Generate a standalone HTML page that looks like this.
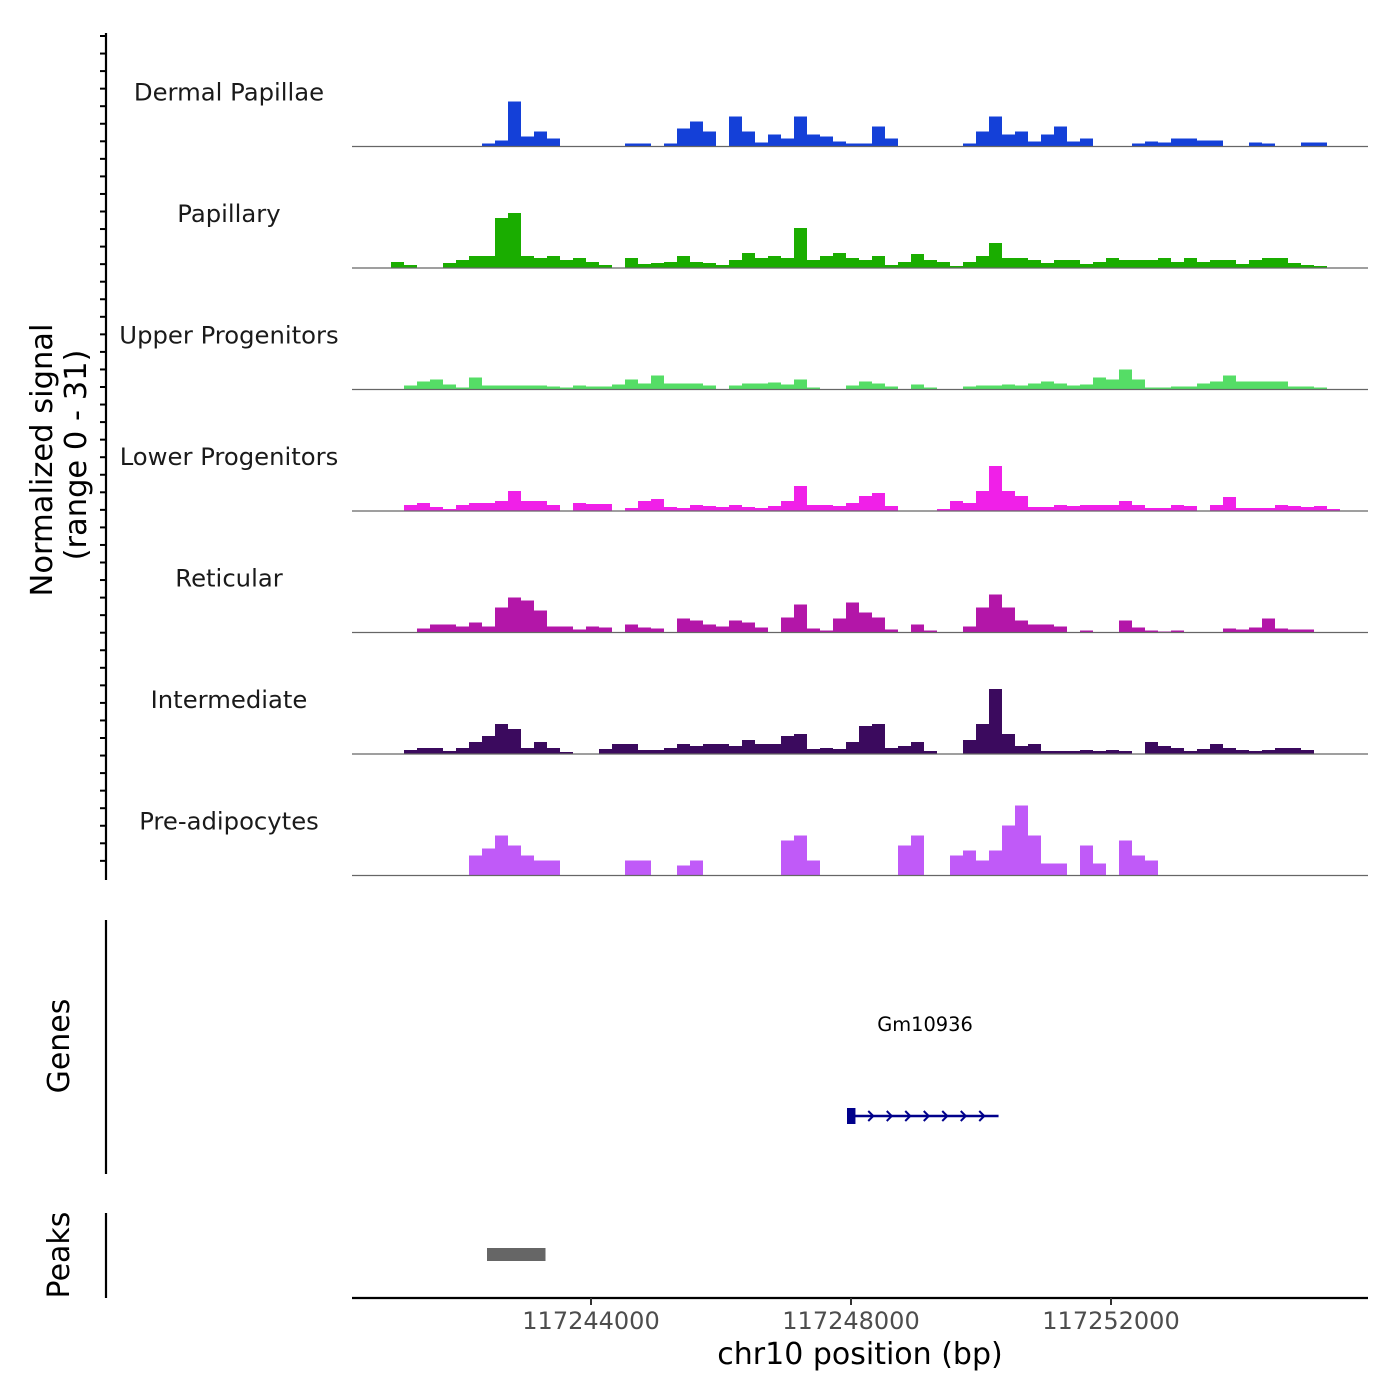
<!DOCTYPE html>
<html><head><meta charset="utf-8"><style>
body{margin:0;background:#fff}
svg{display:block;font-family:"DejaVu Sans","Liberation Sans",sans-serif}
</style></head><body>
<svg id="chart" width="1400" height="1400" viewBox="0 0 1400 1400" xmlns="http://www.w3.org/2000/svg">
<rect width="1400" height="1400" fill="#fff"/>
<g id="tracks"></g>
<g id="yaxis"></g>
<text transform="translate(52,460) rotate(-90)" text-anchor="middle" font-size="30.5" fill="#000">Normalized signal</text>
<text transform="translate(86,455) rotate(-90)" text-anchor="middle" font-size="30.5" fill="#000">(range 0 - 31)</text>
<line x1="106" y1="920" x2="106" y2="1174" stroke="#000" stroke-width="2.2"/>
<text transform="translate(69,1046) rotate(-90)" text-anchor="middle" font-size="30">Genes</text>
<g id="genes"></g>
<line x1="106" y1="1213" x2="106" y2="1298" stroke="#000" stroke-width="2.2"/>
<text transform="translate(69,1255) rotate(-90)" text-anchor="middle" font-size="30">Peaks</text>
<g id="peaks"></g>
<g id="xaxis"></g>
<text x="860" y="1364" text-anchor="middle" font-size="30">chr10 position (bp)</text>
</svg>
<script>
const trackNames = ["Dermal Papillae","Papillary","Upper Progenitors","Lower Progenitors","Reticular","Intermediate","Pre-adipocytes"];
const trackColors = ["#1440d8","#1aad00","#55dd66","#f020e8","#b316a8","#3b0a5e","#c05af8"];
const binStartBp = 117240323;
const binSizeBp = 200;
const xTicks = [117244000,117248000,117252000];
const yMax = 107;
const dermalPapillae = [0,0,0,0,0,0,0,0,0,0,3,6,45,10,15,8,0,0,0,0,0,3,3,0,3,18,25,15,0,30,15,4,12,8,30,12,10,5,3,3,20,8,0,0,0,0,0,3,15,30,12,15,5,12,20,5,8,0,0,0,3,5,4,8,8,6,6,0,0,4,3,0,0,4,4,0,0,0];
const papillary = [0,0,0,6,3,0,0,5,8,12,12,50,55,12,10,12,8,10,6,3,0,10,4,5,6,12,6,5,3,8,15,10,12,10,40,8,12,15,10,8,12,3,6,14,8,6,2,6,12,25,10,10,8,5,8,8,4,6,10,8,8,8,10,6,10,6,8,8,4,8,10,10,5,3,2,0,0,0];
const upperProgenitors = [0,0,0,0,4,8,10,5,2,12,4,4,4,4,4,3,2,4,3,3,5,10,6,14,6,6,6,4,0,4,6,6,7,5,10,2,0,0,4,8,6,3,0,5,2,0,0,3,4,4,5,4,6,8,6,4,5,12,10,20,10,2,2,3,3,6,8,14,8,8,8,8,3,3,2,0,0,0];
const lowerProgenitors = [0,0,0,0,6,8,4,2,6,8,8,10,20,10,10,6,0,8,7,7,0,3,10,12,4,3,6,5,4,6,4,3,5,10,25,6,6,5,8,15,18,5,0,0,0,2,10,8,20,45,20,15,4,4,6,5,6,6,6,10,6,3,3,6,5,0,6,14,3,3,3,6,5,4,5,2,0,0];
const reticular = [0,0,0,0,0,4,8,8,6,10,6,25,35,32,22,6,6,3,6,5,0,8,5,4,0,14,12,8,6,12,10,5,0,15,28,4,2,14,30,20,15,3,0,8,2,0,0,6,25,38,25,12,8,8,6,0,2,0,0,12,5,2,1,2,0,0,0,4,3,5,14,4,3,3,0,0,0,0];
const intermediate = [0,0,0,0,4,6,6,3,6,12,18,30,25,6,12,6,2,0,0,5,10,10,4,4,6,10,8,10,10,8,14,10,10,18,20,5,6,5,12,28,30,6,8,12,3,0,0,14,30,65,20,8,10,3,3,3,4,3,4,3,0,12,8,6,3,5,10,6,4,3,4,6,6,4,0,0,0,0];
const preAdipocytes = [0,0,0,0,0,0,0,0,0,20,27,40,30,20,15,15,0,0,0,0,0,15,15,0,0,10,15,0,0,0,0,0,0,35,40,15,0,0,0,0,0,0,30,40,0,0,20,25,15,25,50,70,40,12,12,0,30,12,0,35,20,15,0,0,0,0,0,0,0,0,0,0,0,0,0,0,0,0];
const trackData = [dermalPapillae,papillary,upperProgenitors,lowerProgenitors,reticular,intermediate,preAdipocytes];
const geneName = "Gm10936";
const geneStartBp = 117247950;
const geneEndBp = 117250270;
const exonStartBp = 117248000;
const exonEndBp = 117248130;
const peakStartBp = 117242400;
const peakEndBp = 117243300;

const NS = "http://www.w3.org/2000/svg";
const X0 = 352, X1 = 1368;
function xScale(bp){ return 591 + (bp - 117244000) * 0.065; }
const trackTop = 25, trackH = 121.5;
function baseline(i){ return trackTop + trackH*(i+1); }
function yScale(v,i){ return baseline(i) - v * (107 / yMax); }
function mk(tag, attrs, parent){ const e=document.createElementNS(NS,tag); for(const k in attrs) e.setAttribute(k,attrs[k]); parent.appendChild(e); return e; }

const tracks = document.getElementById('tracks');
trackData.forEach((arr,i)=>{
  const g = mk('g',{},tracks);
  
  
  const b = baseline(i);
  let d = 'M' + X0 + ' ' + b;
  arr.forEach((v,j)=>{
    const xa = xScale(binStartBp + j*binSizeBp), xb = xScale(binStartBp + (j+1)*binSizeBp);
    const y = yScale(v,i);
    d += ' L' + xa.toFixed(1) + ' ' + y.toFixed(1) + ' L' + xb.toFixed(1) + ' ' + y.toFixed(1);
  });
  d += ' L' + xScale(binStartBp + arr.length*binSizeBp).toFixed(1) + ' ' + b + ' Z';
  const p = mk('path',{d:d,fill:trackColors[i]},g);
  
  
  const l = mk('line',{x1:X0,x2:X1,y1:b,y2:b,stroke:'#666','stroke-width':1.2},g);
  
  
  const t = mk('text',{x:229,y:b-46,'text-anchor':'middle','font-size':24.3,fill:'#1a1a1a'},g);
  t.textContent = trackNames[i];
  
  
});

const yaxis = document.getElementById('yaxis');
mk('line',{x1:106,x2:106,y1:33,y2:880,stroke:'#000','stroke-width':2.2},yaxis);
for(let y=36; y<=878; y+=17.55){
  const tk = mk('line',{x1:100,x2:106,y1:y,y2:y,stroke:'#000','stroke-width':2},yaxis);
  
  
}

const genes = document.getElementById('genes');
const gy = 1116;
const gl = mk('line',{x1:xScale(geneStartBp),x2:xScale(geneEndBp),y1:gy,y2:gy,stroke:'#00008b','stroke-width':2.5},genes);


const ex = mk('rect',{x:xScale(exonStartBp)-4,y:gy-8,width:Math.max(8,xScale(exonEndBp)-xScale(exonStartBp)),height:16,fill:'#00008b'},genes);


for(let x=xScale(geneStartBp)+2; x<xScale(geneEndBp)-4; x+=18.5){
  const a = mk('path',{d:`M${x} ${gy-5} L${x+5} ${gy} L${x} ${gy+5}`,stroke:'#00008b','stroke-width':2,fill:'none'},genes);
  
  
}
const gt = mk('text',{x:925,y:1031,'text-anchor':'middle','font-size':19.4},genes);
gt.textContent = geneName;



const peaks = document.getElementById('peaks');
const pk = mk('rect',{x:xScale(peakStartBp),y:1248,width:xScale(peakEndBp)-xScale(peakStartBp),height:13,fill:'#666'},peaks);



const xaxis = document.getElementById('xaxis');
mk('line',{x1:X0,x2:X1,y1:1298,y2:1298,stroke:'#000','stroke-width':2.2},xaxis);
xTicks.forEach(v=>{
  const x = xScale(v);
  const tk = mk('line',{x1:x,x2:x,y1:1298,y2:1305,stroke:'#333','stroke-width':2},xaxis);
  
  
  const t = mk('text',{x:x,y:1329,'text-anchor':'middle','font-size':24,fill:'#4d4d4d'},xaxis);
  t.textContent = v;
  
  
});
</script>
</body></html>
